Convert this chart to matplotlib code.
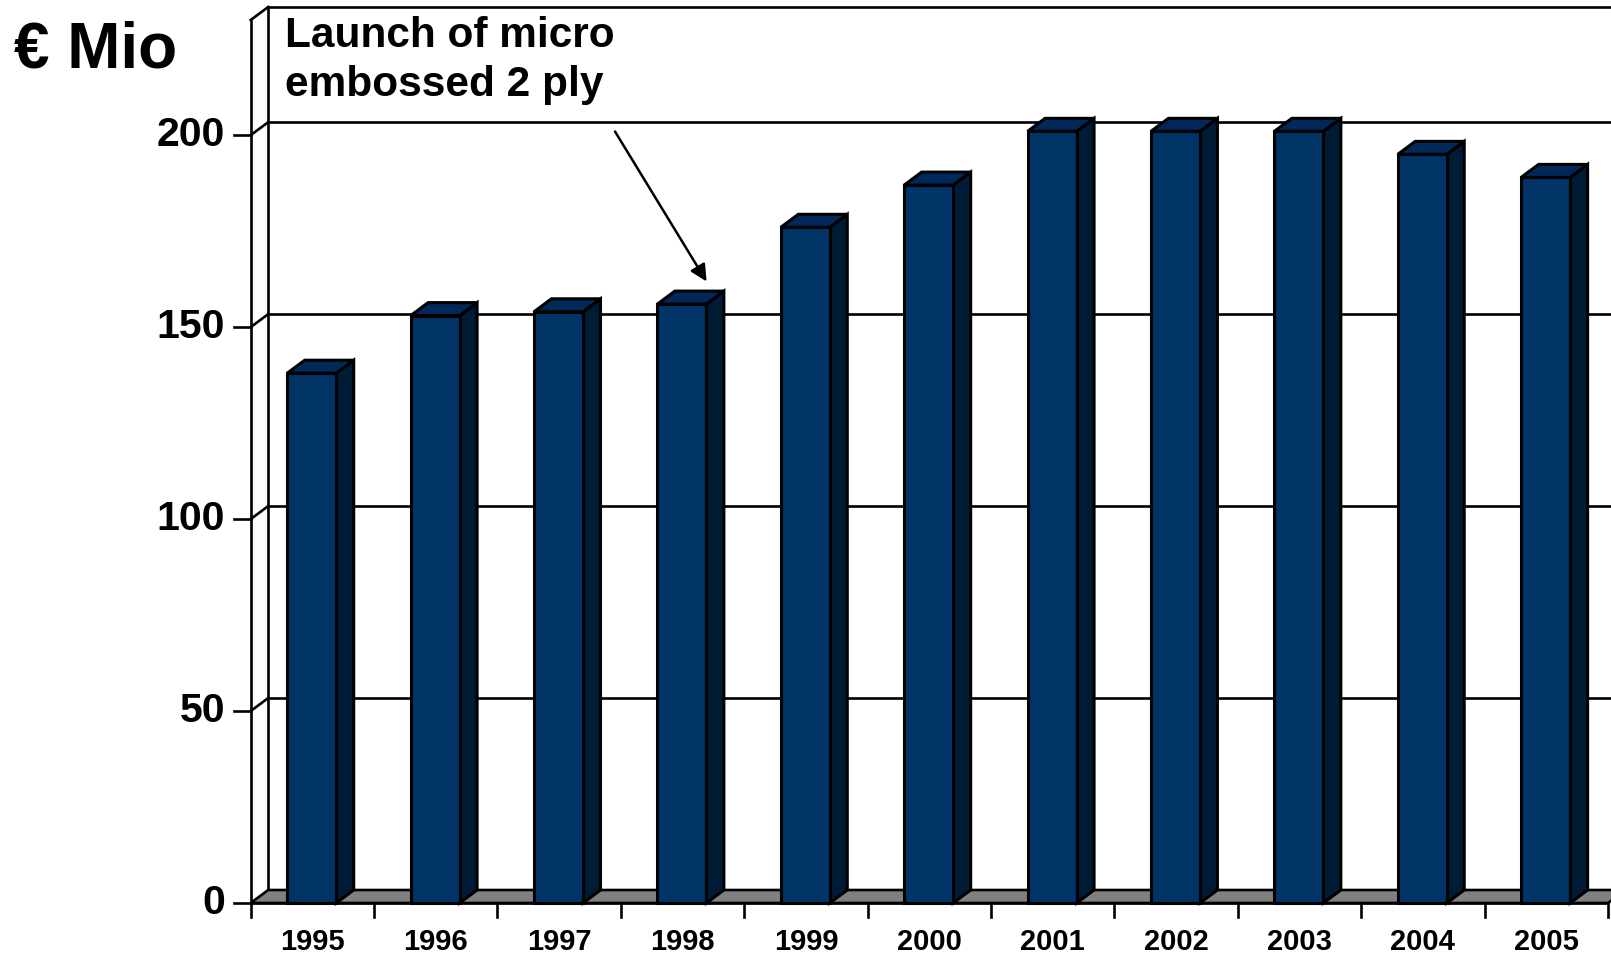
import matplotlib
matplotlib.use("Agg")
import matplotlib.pyplot as plt
from matplotlib.patches import Polygon

plt.rcParams['font.family'] = ['Liberation Sans', 'DejaVu Sans']
plt.rcParams['font.weight'] = 'bold'

# ---- data ----
years = ['1995', '1996', '1997', '1998', '1999', '2000',
         '2001', '2002', '2003', '2004', '2005']
values = [138, 153, 154, 156, 176, 187, 201, 201, 201, 195, 189]
yticks = [0, 50, 100, 150, 200]
unit_label = '€ Mio'
note_text = 'Launch of micro\nembossed 2 ply'
note_year_index = 3  # arrow points to 1998 bar

# ---- figure geometry ----
W_PX, H_PX = 1611, 956
fig = plt.figure(figsize=(W_PX / 100, H_PX / 100), dpi=100)
x0_px, x1_px = 250.7, 1608.0
y0_px, y1_px = 903.0, 20.0
ax = fig.add_axes([x0_px / W_PX, 1 - y0_px / H_PX,
                   (x1_px - x0_px) / W_PX, (y0_px - y1_px) / H_PX])
n = len(years)
ymax = 230
ax.set_xlim(0, n)
ax.set_ylim(0, ymax)
ax.axis('off')

px_x = (x1_px - x0_px) / n          # pixels per category
px_y = (y0_px - y1_px) / ymax       # pixels per unit
dx = 17.5 / px_x                    # depth offset (data units)
dy = 13.0 / px_y

LW = 1.9
BLW = 2.2
front_c = '#003366'
top_c = '#00295a'
side_c = '#001b36'
floor_c = '#808080'

# floor
ax.add_patch(Polygon([(0, 0), (n, 0), (n + dx, dy), (dx, dy)], closed=True,
                     facecolor=floor_c, edgecolor='black', lw=LW,
                     clip_on=False, zorder=2))

# back wall & gridlines
ax.plot([dx, dx], [dy, ymax + dy], color='black', lw=LW, clip_on=False, zorder=1)
ax.plot([dx, n + dx], [ymax + dy, ymax + dy], color='black', lw=LW, clip_on=False, zorder=1)
ax.plot([0, dx], [ymax, ymax + dy], color='black', lw=LW, clip_on=False, zorder=1)
for v in yticks[1:]:
    ax.plot([dx, n + dx], [v + dy, v + dy], color='black', lw=LW, clip_on=False, zorder=1)
    ax.plot([0, dx], [v, v + dy], color='black', lw=LW, clip_on=False, zorder=1)

# front axes
ax.plot([0, 0], [0, ymax], color='black', lw=LW, clip_on=False, zorder=5)
ax.plot([0, n], [0, 0], color='black', lw=LW, clip_on=False, zorder=5)

# y ticks and labels
tick_len_x = 17 / px_x
for v in yticks:
    ax.plot([-tick_len_x, 0], [v, v], color='black', lw=LW, clip_on=False, zorder=5)
    ax.text(-(25.5 / px_x), v, str(v), ha='right', va='center',
            fontsize=29.5, fontweight='bold', clip_on=False)

# x ticks and labels
tick_len_y = 14 / px_y
for i in range(n + 1):
    ax.plot([i, i], [0, -tick_len_y], color='black', lw=LW, clip_on=False, zorder=5)
for i, yr in enumerate(years):
    ax.text(i + 0.5, -(39 / px_y), yr, ha='center', va='center',
            fontsize=21, fontweight='bold', clip_on=False)

# bars
bw = 0.397
boff = 0.296
for i, v in enumerate(values):
    xa = i + boff
    xb = xa + bw
    side = Polygon([(xb, 0), (xb + dx, dy), (xb + dx, v + dy), (xb, v)], closed=True,
                   facecolor=side_c, edgecolor='black', lw=BLW, zorder=6, clip_on=False)
    top = Polygon([(xa, v), (xb, v), (xb + dx, v + dy), (xa + dx, v + dy)], closed=True,
                  facecolor=top_c, edgecolor='black', lw=BLW, zorder=6, clip_on=False)
    front = Polygon([(xa, 0), (xb, 0), (xb, v), (xa, v)], closed=True,
                    facecolor=front_c, edgecolor='black', lw=BLW, zorder=7, clip_on=False)
    ax.add_patch(side)
    ax.add_patch(top)
    ax.add_patch(front)

# annotation
fig.text(285 / W_PX, 1 - 16 / H_PX, note_text, ha='left', va='top',
         fontsize=30.5, fontweight='bold', linespacing=1.3)
tip_x = note_year_index + boff + bw / 2 + 0.2
tip_y = values[note_year_index] + dy + 2.5
start_x = (615 - x0_px) / px_x
start_y = (y0_px - 131.5) / px_y
ax.annotate('', xy=(tip_x, tip_y), xytext=(start_x, start_y),
            arrowprops=dict(arrowstyle='-|>,head_length=1.0,head_width=0.5',
                            color='black', lw=1.8, shrinkA=0, shrinkB=0),
            annotation_clip=False, zorder=8)

# unit label
fig.text(14 / W_PX, 1 - 20 / H_PX, unit_label, ha='left', va='top',
         fontsize=46, fontweight='bold')

fig.savefig('out.png', dpi=100)
